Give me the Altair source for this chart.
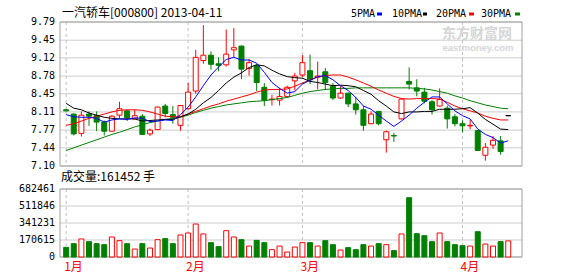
import altair as alt
import pandas as pd

# ---------------- data ----------------
opens  = [8.15, 8.07, 7.71, 8.07, 8.04, 7.92, 7.75, 8.05, 8.13, 7.98,
          8.03, 7.70, 7.78, 8.22, 8.06, 7.86, 8.17, 8.50, 9.07, 9.17,
          9.01, 8.99, 9.27, 9.34, 8.92, 8.98, 8.57, 8.34, 8.33, 8.40,
          8.69, 8.80, 8.88, 8.76, 8.86, 8.59, 8.37, 8.46, 8.26, 8.15,
          7.89, 8.12, 7.59, 7.67, 7.98, 8.68, 8.56, 8.48, 8.30, 8.22,
          8.18, 8.02, 7.89, 7.85, 7.76, 7.30, 7.49, 7.57, 8.04]
highs  = [8.17, 8.08, 8.12, 8.12, 8.12, 7.95, 8.05, 8.30, 8.15, 8.15,
          8.07, 7.80, 8.21, 8.26, 8.22, 8.24, 8.65, 9.27, 9.73, 9.24,
          9.13, 9.65, 9.68, 9.35, 9.10, 9.00, 8.65, 8.43, 8.56, 8.60,
          8.84, 9.17, 9.18, 9.05, 8.93, 8.65, 8.59, 8.47, 8.39, 8.22,
          8.12, 8.13, 7.76, 7.72, 8.36, 8.94, 8.72, 8.56, 8.33, 8.55,
          8.23, 8.07, 7.95, 7.97, 7.77, 7.53, 7.66, 7.66, 8.04]
lows   = [8.12, 7.67, 7.65, 7.85, 7.75, 7.67, 7.74, 7.99, 7.94, 7.97,
          7.68, 7.66, 7.77, 8.01, 7.89, 7.76, 8.14, 8.45, 9.01, 8.90,
          8.87, 8.96, 9.13, 8.72, 8.79, 8.50, 8.22, 8.23, 8.23, 8.38,
          8.51, 8.76, 8.63, 8.53, 8.52, 8.33, 8.36, 8.20, 8.06, 7.76,
          7.88, 7.86, 7.35, 7.55, 7.97, 8.53, 8.40, 8.27, 8.06, 8.21,
          7.80, 7.84, 7.73, 7.79, 7.38, 7.20, 7.42, 7.31, 8.04]
closes = [8.13, 7.70, 8.05, 8.03, 7.92, 7.75, 8.03, 8.17, 8.00, 8.04,
          7.69, 7.77, 8.20, 8.08, 8.01, 8.23, 8.48, 9.13, 9.17, 9.00,
          8.98, 9.19, 9.31, 8.91, 9.03, 8.66, 8.33, 8.35, 8.40, 8.57,
          8.78, 9.03, 8.71, 8.78, 8.66, 8.37, 8.46, 8.26, 8.15, 7.86,
          8.07, 7.89, 7.74, 7.66, 8.35, 8.63, 8.50, 8.31, 8.15, 8.34,
          7.98, 7.89, 7.85, 7.86, 7.39, 7.45, 7.58, 7.37, 8.04]
volumes = [97000, 134000, 181000, 154000, 134000, 124000, 201000, 164000, 134000, 80000,
           134000, 90000, 174000, 184000, 134000, 221000, 241000, 331000, 231000, 144000,
           104000, 264000, 201000, 174000, 110000, 167000, 144000, 74000, 110000, 50000,
           100000, 144000, 144000, 110000, 164000, 124000, 70000, 94000, 74000, 124000,
           110000, 134000, 124000, 64000, 231000, 595000, 234000, 214000, 154000, 241000,
           154000, 124000, 114000, 110000, 254000, 130000, 110000, 154000, 161452]
ma5  = [8.06, 8.02, 8.01, 8.01, 7.99, 7.92, 7.96, 7.98, 7.97, 8.00,
        7.99, 7.93, 7.94, 7.96, 7.95, 8.06, 8.20, 8.39, 8.60, 8.80,
        8.95, 9.09, 9.13, 9.08, 9.08, 9.02, 8.85, 8.66, 8.55, 8.46,
        8.49, 8.63, 8.70, 8.77, 8.79, 8.71, 8.60, 8.51, 8.38, 8.22,
        8.16, 8.05, 7.94, 7.84, 7.94, 8.05, 8.18, 8.29, 8.39, 8.39,
        8.26, 8.13, 8.04, 7.98, 7.79, 7.69, 7.63, 7.53, 7.57]
ma10 = [8.27, 8.18, 8.15, 8.09, 8.05, 8.01, 7.99, 7.98, 7.98, 7.98,
        7.94, 7.95, 7.96, 7.97, 7.97, 8.02, 8.07, 8.16, 8.28, 8.38,
        8.51, 8.65, 8.76, 8.84, 8.94, 8.99, 8.97, 8.89, 8.82, 8.77,
        8.75, 8.74, 8.68, 8.66, 8.63, 8.60, 8.61, 8.60, 8.58, 8.51,
        8.44, 8.32, 8.22, 8.11, 8.08, 8.11, 8.11, 8.12, 8.12, 8.16,
        8.16, 8.16, 8.17, 8.19, 8.09, 7.97, 7.88, 7.79, 7.78]
ma20 = [7.86, 7.89, 7.94, 7.99, 8.03, 8.07, 8.11, 8.14, 8.15, 8.15,
        8.14, 8.11, 8.07, 8.03, 8.02, 8.02, 8.07, 8.12, 8.17, 8.22,
        8.26, 8.31, 8.35, 8.39, 8.43, 8.48, 8.52, 8.53, 8.53, 8.54,
        8.59, 8.65, 8.71, 8.76, 8.79, 8.80, 8.80, 8.76, 8.71, 8.65,
        8.59, 8.52, 8.46, 8.40, 8.36, 8.35, 8.36, 8.36, 8.36, 8.35,
        8.29, 8.22, 8.17, 8.13, 8.09, 8.03, 7.99, 7.96, 7.96]
ma30 = [7.39, 7.44, 7.49, 7.54, 7.59, 7.64, 7.69, 7.73, 7.78, 7.83,
        7.87, 7.91, 7.94, 7.97, 7.99, 8.01, 8.05, 8.10, 8.14, 8.18,
        8.21, 8.24, 8.26, 8.28, 8.30, 8.31, 8.32, 8.34, 8.36, 8.38,
        8.42, 8.46, 8.49, 8.51, 8.53, 8.54, 8.55, 8.55, 8.56, 8.56,
        8.56, 8.56, 8.56, 8.56, 8.56, 8.56, 8.55, 8.54, 8.52, 8.49,
        8.46, 8.41, 8.37, 8.32, 8.28, 8.24, 8.21, 8.18, 8.17]

price_ticks = [7.10, 7.44, 7.77, 8.11, 8.45, 8.78, 9.12, 9.45, 9.79]
price_tick_labels = ["7.10", "7.44", "7.77", "8.11", "8.45", "8.78", "9.12", "9.45", "9.79"]
vol_ticks = [0, 170615, 341231, 511846, 682461]
vol_tick_labels = ["0", "170615", "341231", "511846", "682461"]
month_start = [0, 16, 31, 52]
month_labels = ["1月", "2月", "3月", "4月"]
title_text = "一汽轿车[000800] 2013-04-11"
ma_names = ["5PMA", "10PMA", "20PMA", "30PMA"]
ma_colors = ["#0000ff", "#000000", "#ff0000", "#008000"]

# ---------------- layout constants ----------------
W, H = 462, 235          # plot area (price panel + gap + volume panel)
PH = 144                 # price panel height
VT, VB = 167, 235        # volume panel top / bottom
CJK = "Noto Sans CJK SC"
MONO = "DejaVu Sans Mono"

n = len(closes)
df = pd.DataFrame({
    "day": list(range(n)), "open": opens, "high": highs, "low": lows, "close": closes,
    "vol": volumes, "ma5": ma5, "ma10": ma10, "ma20": ma20, "ma30": ma30,
})
df["dir"] = ["up" if c > o else ("down" if c < o else "flat") for o, c in zip(opens, closes)]
df["vdir"] = ["up" if c >= o else "down" for o, c in zip(opens, closes)]

XS = alt.Scale(domain=[-0.15, 59.15], nice=False, zero=False)
PS = alt.Scale(domain=[7.10, 9.79], range=[PH, 0], nice=False, zero=False)
VS = alt.Scale(domain=[0, 682461], range=[VB, VT], nice=False, zero=True)
x = alt.X("day:Q", scale=XS, axis=None)

dirs = ["up", "down", "flat"]
stroke_s = alt.Scale(domain=dirs, range=["#ff0000", "#008000", "#000000"])
fill_s = alt.Scale(domain=dirs, range=["#ffffff", "#008000", "#000000"])
vdirs = ["up", "down"]
vstroke_s = alt.Scale(domain=vdirs, range=["#ff0000", "#008000"])
vfill_s = alt.Scale(domain=vdirs, range=["#ffffff", "#008000"])

one = pd.DataFrame({"k": [0]})
base = alt.Chart(df)

layers = []

# gridlines
pt = pd.DataFrame({"v": price_ticks, "lab": price_tick_labels})
vt = pd.DataFrame({"v": vol_ticks, "lab": vol_tick_labels})
layers.append(alt.Chart(pt).mark_rule(color="#cccccc", strokeWidth=1).encode(
    y=alt.Y("v:Q", scale=PS, axis=None), x=alt.value(0), x2=alt.value(W)))
layers.append(alt.Chart(vt).mark_rule(color="#cccccc", strokeWidth=1).encode(
    y=alt.Y("v:Q", scale=VS, axis=None), x=alt.value(0), x2=alt.value(W)))

# month dashed lines
mdf = pd.DataFrame({"day": month_start, "m": month_labels})
layers.append(alt.Chart(mdf).mark_rule(color="#c0c0c0", strokeDash=[3, 3], strokeWidth=1).encode(
    x=x, y=alt.value(0), y2=alt.value(PH)))
layers.append(alt.Chart(mdf).mark_rule(color="#c0c0c0", strokeDash=[3, 3], strokeWidth=1).encode(
    x=x, y=alt.value(VT), y2=alt.value(VB)))

# panel frames
layers.append(alt.Chart(one).mark_rect(fillOpacity=0, stroke="#a0a0a0", strokeWidth=1).encode(
    x=alt.value(0), x2=alt.value(W), y=alt.value(0), y2=alt.value(PH)))
layers.append(alt.Chart(one).mark_rect(fillOpacity=0, stroke="#a0a0a0", strokeWidth=1).encode(
    x=alt.value(0), x2=alt.value(W), y=alt.value(VT), y2=alt.value(VB)))

# tick labels
layers.append(alt.Chart(pt).mark_text(align="right", baseline="middle", font=MONO, fontSize=10,
                                      color="#000000").encode(
    y=alt.Y("v:Q", scale=PS, axis=None), x=alt.value(-5), text="lab:N"))
layers.append(alt.Chart(vt).mark_text(align="right", baseline="middle", font=MONO, fontSize=10,
                                      color="#000000").encode(
    y=alt.Y("v:Q", scale=VS, axis=None), x=alt.value(-5), text="lab:N"))

# month labels
layers.append(alt.Chart(mdf).mark_text(align="left", baseline="middle", font=CJK, fontSize=12,
                                       color="#ff0000", dx=-2).encode(
    x=x, y=alt.value(245), text="m:N"))

# candles: wicks then bodies
layers.append(base.mark_rule(strokeWidth=1).encode(
    x=x, y=alt.Y("low:Q", scale=PS, axis=None), y2="high:Q",
    color=alt.Color("dir:N", scale=stroke_s, legend=None)))
layers.append(base.mark_bar(size=5, strokeWidth=1).encode(
    x=x, y=alt.Y("open:Q", scale=PS, axis=None), y2="close:Q",
    fill=alt.Fill("dir:N", scale=fill_s, legend=None),
    stroke=alt.Stroke("dir:N", scale=stroke_s, legend=None)))

# moving averages
for col, colr in zip(["ma30", "ma20", "ma10", "ma5"], ["#008000", "#ff0000", "#000000", "#0000ff"]):
    layers.append(base.mark_line(color=colr, strokeWidth=1).encode(
        x=x, y=alt.Y(f"{col}:Q", scale=PS, axis=None)))

# volume bars
layers.append(base.mark_bar(size=5, strokeWidth=1).encode(
    x=x, y=alt.Y("vol:Q", scale=VS, axis=None),
    fill=alt.Fill("vdir:N", scale=vfill_s, legend=None),
    stroke=alt.Stroke("vdir:N", scale=vstroke_s, legend=None)))

# title & volume caption
layers.append(alt.Chart(pd.DataFrame({"t": [title_text]})).mark_text(
    align="left", baseline="middle", font=CJK, fontSize=12, color="#000000").encode(
    x=alt.value(2), y=alt.value(-9), text="t:N"))
layers.append(alt.Chart(pd.DataFrame({"t": [f"成交量:{volumes[-1]} 手"]})).mark_text(
    align="left", baseline="middle", font=CJK, fontSize=12, color="#000000").encode(
    x=alt.value(1), y=alt.value(155), text="t:N"))

# MA legend (label followed by a colour swatch)
leg_x = [291, 332, 376, 421]
sw_x = [317, 363, 409, 455]
sw_w = [5, 4, 5, 5]
for name, colr, lx, sx, sw in zip(ma_names, ma_colors, leg_x, sw_x, sw_w):
    layers.append(alt.Chart(pd.DataFrame({"t": [name]})).mark_text(
        align="left", baseline="middle", font=MONO, fontSize=10, color="#000000").encode(
        x=alt.value(lx), y=alt.value(-8), text="t:N"))
    layers.append(alt.Chart(one).mark_rect(color=colr).encode(
        x=alt.value(sx), x2=alt.value(sx + sw), y=alt.value(-9.5), y2=alt.value(-6.5)))

# watermark
layers.append(alt.Chart(pd.DataFrame({"t": ["东方财富网"]})).mark_text(
    align="center", baseline="middle", font=CJK, fontSize=14, fontWeight="bold", color="#d6d6d6").encode(
    x=alt.value(417), y=alt.value(11.5), text="t:N"))
layers.append(alt.Chart(pd.DataFrame({"t": ["eastmoney.com"]})).mark_text(
    align="center", baseline="middle", font="Liberation Sans", fontSize=9.5, fontWeight="bold",
    color="#d6d6d6").encode(
    x=alt.value(418), y=alt.value(25.5), text="t:N"))

chart = alt.layer(*layers).resolve_scale(y="independent").properties(
    width=W, height=H,
    autosize=alt.AutoSizeParams(type="none"),
    padding={"left": 60, "top": 22, "right": 56, "bottom": 19},
    background="#ffffff",
).configure_view(stroke=None)

chart.save("out.html", embed_options={"renderer": "svg", "actions": False})
